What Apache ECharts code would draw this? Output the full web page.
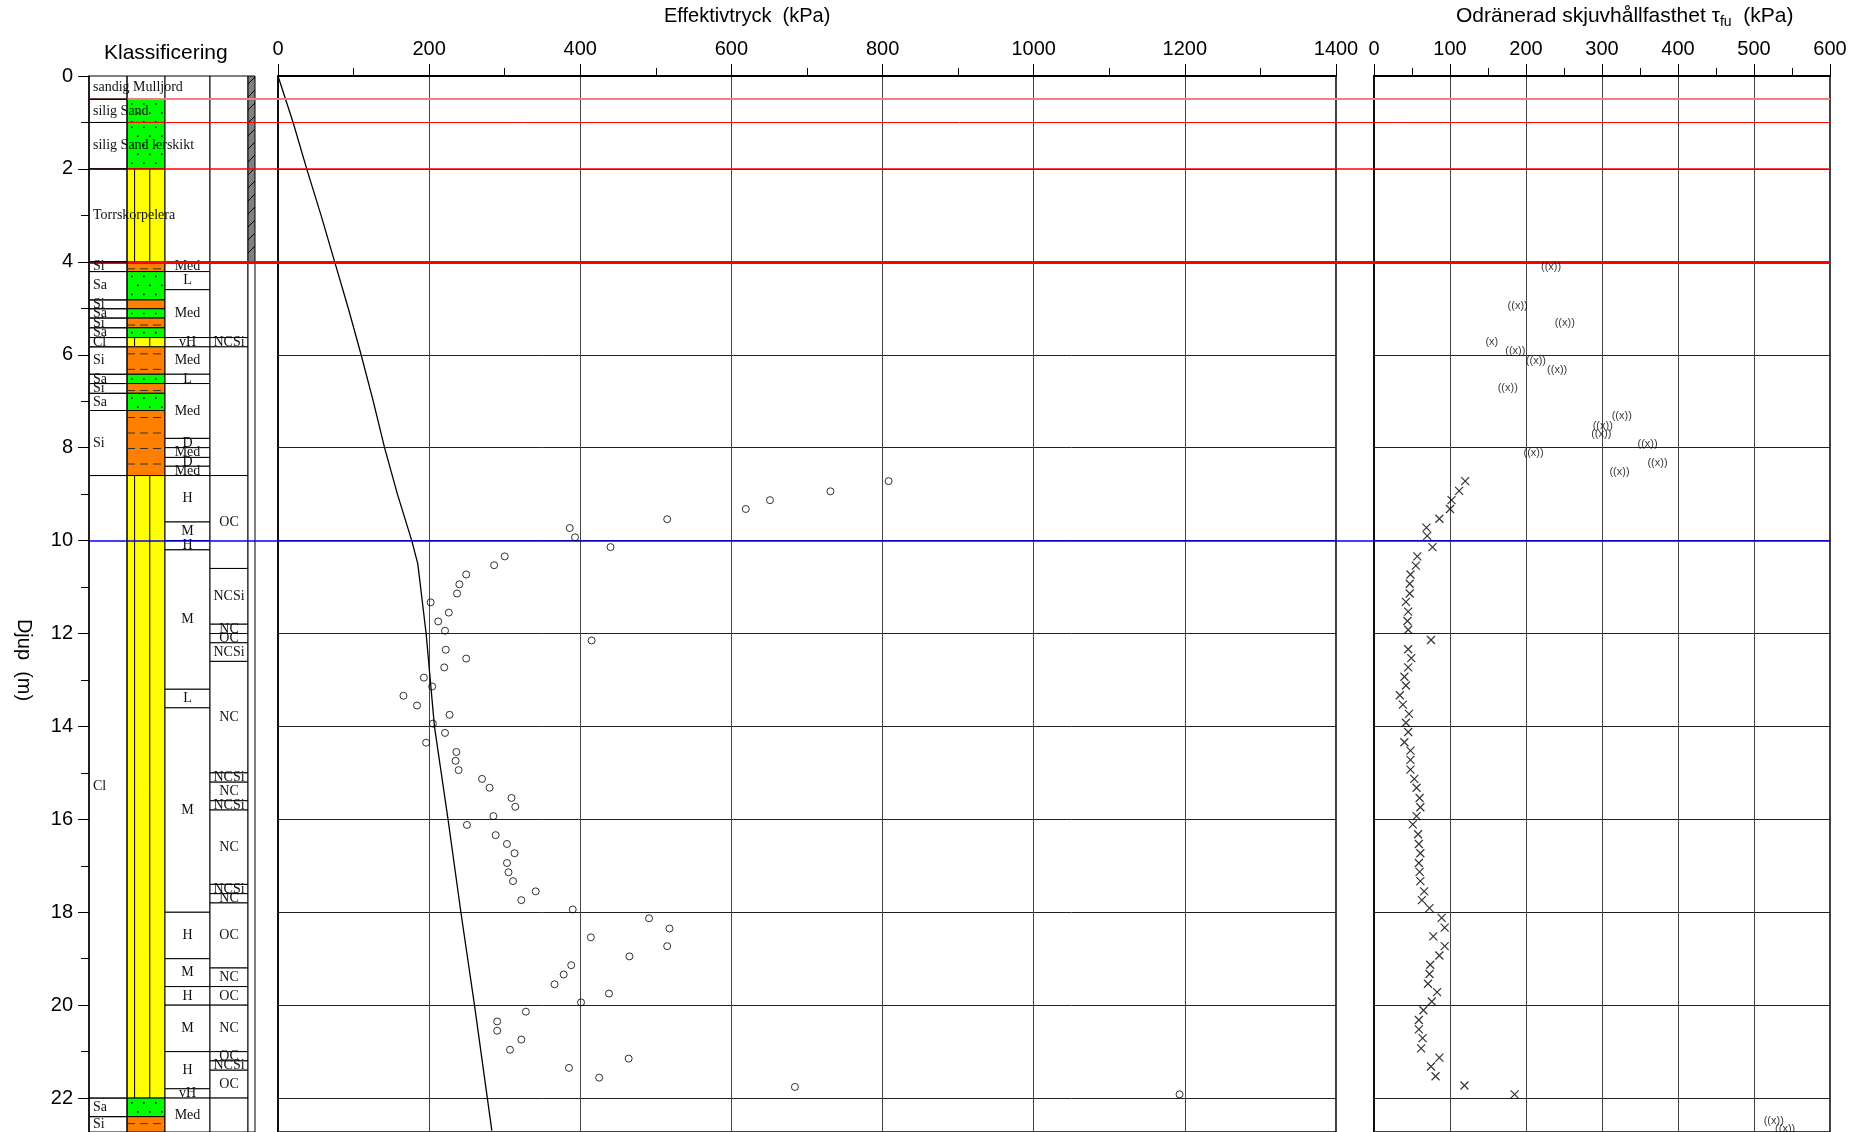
<!DOCTYPE html>
<html>
<head>
<meta charset="utf-8">
<script src="https://cdn.jsdelivr.net/npm/echarts@6/dist/echarts.min.js"></script>
<style>
html,body{margin:0;padding:0;background:#fff;}
#chart{width:1861px;height:1132px;}
</style>
</head>
<body>
<div id="chart"></div>
<script>
// djup (m) max i bilden
var depthMax = 22.73;

// jordlager: [topp, botten, text, typ]
var soilLayers = [
    [0, 0.5, 'sandig Mulljord', 'W'], [0.5, 1.0, 'silig Sand', 'Sa'], [1.0, 2.0, 'silig Sand lerskikt', 'Sa'],
    [2.0, 4.0, 'Torrskorpelera', 'Cl'], [4.0, 4.21, 'Si', 'Si'], [4.21, 4.82, 'Sa', 'Sa'], [4.82, 5.01, 'Si', 'Si'],
    [5.01, 5.21, 'Sa', 'Sa'], [5.21, 5.42, 'Si', 'Si'], [5.42, 5.63, 'Sa', 'Sa'], [5.63, 5.83, 'Cl', 'Cl'],
    [5.83, 6.42, 'Si', 'Si'], [6.42, 6.62, 'Sa', 'Sa'], [6.62, 6.83, 'Si', 'Si'], [6.83, 7.2, 'Sa', 'Sa'],
    [7.2, 8.6, 'Si', 'Si'], [8.6, 22.0, 'Cl', 'Cl'], [22.0, 22.4, 'Sa', 'Sa'], [22.4, 22.73, 'Si', 'Si']
];
// fasthet
var consLayers = [
    [0, 4.0, ''], [4.0, 4.21, 'Med'], [4.21, 4.6, 'L'], [4.6, 5.63, 'Med'], [5.63, 5.83, 'vH'], [5.83, 6.42, 'Med'],
    [6.42, 6.62, 'L'], [6.62, 7.8, 'Med'], [7.8, 8.0, 'D'], [8.0, 8.21, 'Med'], [8.21, 8.4, 'D'], [8.4, 8.6, 'Med'],
    [8.6, 9.6, 'H'], [9.6, 10.0, 'M'], [10.0, 10.2, 'H'], [10.2, 13.2, 'M'], [13.2, 13.6, 'L'], [13.6, 18.0, 'M'],
    [18.0, 19.0, 'H'], [19.0, 19.6, 'M'], [19.6, 20.0, 'H'], [20.0, 21.0, 'M'], [21.0, 21.8, 'H'], [21.8, 22.0, 'vH'],
    [22.0, 22.73, 'Med']
];
// konsolideringsgrad
var ocLayers = [
    [0, 5.63, ''], [5.63, 5.83, 'NCSi'], [5.83, 8.6, ''], [8.6, 10.6, 'OC'], [10.6, 11.8, 'NCSi'], [11.8, 12.0, 'NC'],
    [12.0, 12.2, 'OC'], [12.2, 12.6, 'NCSi'], [12.6, 15.0, 'NC'], [15.0, 15.2, 'NCSi'], [15.2, 15.6, 'NC'],
    [15.6, 15.8, 'NCSi'], [15.8, 17.4, 'NC'], [17.4, 17.6, 'NCSi'], [17.6, 17.8, 'NC'], [17.8, 19.2, 'OC'],
    [19.2, 19.6, 'NC'], [19.6, 20.0, 'OC'], [20.0, 21.0, 'NC'], [21.0, 21.2, 'OC'], [21.2, 21.4, 'NCSi'],
    [21.4, 22.0, 'OC'], [22.0, 22.73, '']
];
// torrskorpa-remsa
var stripLayers = [[0, 4.0, 'hatch'], [4.0, 22.73, '']];

// effektivtryck, linje [kPa, djup]
var effLine = [
    [0, 0], [20, 1], [38, 2], [57, 3], [75, 4], [93, 5], [110, 6], [126, 7], [141, 8], [158, 9], [177, 10],
    [185, 10.5], [196, 12], [207, 14], [225, 16], [242, 18], [260, 20], [277, 22], [283, 22.7]
];
// förkonsolideringstryck, punkter [kPa, djup]
var effPoints = [
    [808, 8.72], [731, 8.94], [651, 9.13], [619, 9.32], [515, 9.54], [386, 9.73], [393, 9.93], [440, 10.14],
    [300, 10.34], [286, 10.53], [249, 10.73], [240, 10.94], [237, 11.14], [202, 11.33], [226, 11.55], [212, 11.74],
    [221, 11.94], [415, 12.15], [222, 12.35], [249, 12.54], [220, 12.73], [193, 12.95], [204, 13.14], [166, 13.34],
    [184, 13.55], [227, 13.75], [205, 13.94], [221, 14.14], [196, 14.35], [236, 14.55], [235, 14.74], [239, 14.94],
    [270, 15.13], [280, 15.32], [309, 15.54], [314, 15.73], [285, 15.93], [250, 16.12], [288, 16.34], [303, 16.53],
    [313, 16.73], [303, 16.94], [305, 17.14], [311, 17.33], [341, 17.55], [322, 17.74], [390, 17.94], [491, 18.13],
    [518, 18.35], [414, 18.54], [515, 18.73], [465, 18.95], [388, 19.14], [378, 19.34], [366, 19.55], [438, 19.75],
    [401, 19.94], [328, 20.14], [290, 20.35], [290, 20.55], [322, 20.74], [307, 20.96], [464, 21.15], [385, 21.35],
    [425, 21.56], [684, 21.76], [1193, 21.92]
];
// skjuvhållfasthet [kPa, djup]
var shearX = [
    [120, 8.72], [112, 8.93], [102, 9.13], [100, 9.32], [86, 9.53], [69, 9.72], [70, 9.9], [77, 10.14], [57, 10.34],
    [55, 10.54], [48, 10.73], [47, 10.93], [47, 11.14], [42, 11.32], [45, 11.53], [44, 11.73], [45, 11.92], [75, 12.14],
    [45, 12.34], [49, 12.53], [45, 12.73], [40, 12.93], [42, 13.12], [34, 13.33], [38, 13.53], [46, 13.73], [42, 13.92],
    [45, 14.12], [40, 14.34], [48, 14.52], [48, 14.72], [48, 14.93], [53, 15.13], [56, 15.32], [60, 15.54], [61, 15.74],
    [56, 15.93], [51, 16.11], [58, 16.32], [59, 16.53], [61, 16.73], [59, 16.94], [60, 17.13], [61, 17.33], [66, 17.55],
    [63, 17.74], [73, 17.91], [89, 18.12], [93, 18.33], [78, 18.52], [93, 18.73], [86, 18.93], [74, 19.13], [73, 19.33],
    [71, 19.54], [83, 19.72], [76, 19.92], [65, 20.11], [59, 20.32], [59, 20.52], [64, 20.71], [62, 20.93], [86, 21.13],
    [75, 21.32], [81, 21.53], [119, 21.73], [185, 21.92]
];
// osäkra värden [kPa, djup, märkning]
var shearMarked = [
    [233, 4.12, '((x))'], [189, 4.94, '((x))'], [251, 5.32, '((x))'], [155, 5.73, '(x)'], [186, 5.92, '((x))'],
    [213, 6.14, '((x))'], [241, 6.33, '((x))'], [176, 6.71, '((x))'], [326, 7.31, '((x))'], [301, 7.53, '((x))'],
    [299, 7.7, '((x))'], [360, 7.92, '((x))'], [210, 8.12, '((x))'], [373, 8.33, '((x))'], [323, 8.53, '((x))'],
    [526, 22.5, '((x))'], [541, 22.66, '((x))']
];
// nivålinjer [djup, färg, bredd]
var levelLines = [[0.5, '#f08080', 2], [1.0, '#ff0000', 1], [2.0, '#ff0000', 1.5], [4.0, '#ff0000', 3], [10.0, '#0000ff', 1.5]];

var COLS = {name: [0, 38], soil: [38, 76], cons: [76, 121], oc: [121, 159], strip: [159, 166]};
var SERIF = "'Liberation Serif', 'Times New Roman', serif";
var SANS = "'Liberation Sans', Arial, sans-serif";
var soilColor = {W: '#ffffff', Sa: '#00ff00', Si: '#ff8000', Cl: '#ffff00'};

function columnSeries(layers, col, kind) {
    return {
        type: 'custom', xAxisIndex: 0, yAxisIndex: 0, clip: false, z: kind === 'name' ? 5 : 3,
        data: layers.map(function (l) { return [l[0], l[1]]; }),
        encode: {y: [0, 1]},
        renderItem: function (params, api) {
            var l = layers[params.dataIndex];
            var p0 = api.coord([col[0], api.value(0)]);
            var p1 = api.coord([col[1], api.value(1)]);
            var w = p1[0] - p0[0], h = p1[1] - p0[1];
            var ch = [];
            var fill = '#fff';
            if (kind === 'soil') fill = soilColor[l[3]];
            if (kind === 'strip' && l[2] === 'hatch') fill = '#808080';
            ch.push({type: 'rect', shape: {x: p0[0], y: p0[1], width: w, height: h},
                style: {fill: kind === 'name' ? 'none' : fill, stroke: '#000', lineWidth: 1}});
            if (kind === 'soil') {
                var t = l[3], i, j;
                if (t === 'Cl') {
                    [0.2, 0.6].forEach(function (f) {
                        ch.push({type: 'line', shape: {x1: p0[0] + w * f, y1: p0[1], x2: p0[0] + w * f, y2: p1[1]},
                            style: {stroke: '#000', lineWidth: 1}});
                    });
                } else if (t === 'Si') {
                    for (i = p0[1] + 7; i < p1[1] - 2; i += 15.5) {
                        ch.push({type: 'line', shape: {x1: p0[0], y1: i, x2: p1[0], y2: i},
                            style: {stroke: '#333', lineWidth: 1, lineDash: [8, 5]}});
                    }
                } else if (t === 'Sa') {
                    var row = 0;
                    for (i = p0[1] + 4; i < p1[1] - 1; i += 9, row++) {
                        for (j = p0[0] + 4 + (row % 2) * 6; j < p1[0] - 1; j += 12) {
                            ch.push({type: 'rect', shape: {x: j, y: i, width: 1.6, height: 1.6}, style: {fill: '#000'}});
                        }
                    }
                }
            }
            if (kind === 'strip' && l[2] === 'hatch') {
                for (var k = p0[1] + 8; k < p1[1]; k += 13) {
                    ch.push({type: 'line', shape: {x1: p0[0], y1: k, x2: p1[0], y2: k - 7},
                        style: {stroke: '#000', lineWidth: 1}});
                }
            }
            if ((kind === 'name' || kind === 'cons' || kind === 'oc') && l[2] && l[2] !== 'hatch') {
                ch.push({type: 'text', style: {
                    text: l[2], x: kind === 'name' ? p0[0] + 4 : p0[0] + w / 2, y: p0[1] + h / 2,
                    textAlign: kind === 'name' ? 'left' : 'center', textVerticalAlign: 'middle',
                    font: '14px ' + SERIF, fill: '#111'}});
            }
            return {type: 'group', children: ch};
        }
    };
}

var depthAxisBase = {
    type: 'value', inverse: true, min: 0, max: depthMax, interval: 2
};
var plainNum = function (v) { return String(v); };

var chart = echarts.init(document.getElementById('chart'));
var option = {
    backgroundColor: '#fff',
    animation: false,
    grid: [
        {left: 89, width: 167, top: 76, bottom: 0},
        {left: 278, width: 1058, top: 76, bottom: 0, show: true, borderColor: '#000', borderWidth: 1.5},
        {left: 1374, width: 456, top: 76, bottom: 0, show: true, borderColor: '#000', borderWidth: 1.5},
        {left: 89, width: 1741, top: 76, bottom: 0}
    ],
    xAxis: [
        {gridIndex: 0, type: 'value', min: 0, max: 167, show: false},
        {gridIndex: 1, type: 'value', position: 'top', min: 0, max: 1400, interval: 200,
            axisLine: {lineStyle: {color: '#000', width: 2}},
            axisTick: {length: 12, lineStyle: {color: '#000'}},
            minorTick: {show: true, splitNumber: 2, length: 8, lineStyle: {color: '#000'}},
            axisLabel: {color: '#000', fontSize: 20, fontFamily: SANS, margin: 17, formatter: plainNum},
            splitLine: {show: true, lineStyle: {color: '#444', width: 1}}},
        {gridIndex: 2, type: 'value', position: 'top', min: 0, max: 600, interval: 100,
            axisLine: {lineStyle: {color: '#000', width: 2}},
            axisTick: {length: 12, lineStyle: {color: '#000'}},
            minorTick: {show: true, splitNumber: 2, length: 8, lineStyle: {color: '#000'}},
            axisLabel: {color: '#000', fontSize: 20, fontFamily: SANS, margin: 17, formatter: plainNum},
            splitLine: {show: true, lineStyle: {color: '#444', width: 1}}},
        {gridIndex: 3, type: 'value', min: 0, max: 1, show: false}
    ],
    yAxis: [
        Object.assign({gridIndex: 0,
            axisLine: {show: true, lineStyle: {color: '#000', width: 1.5}},
            axisTick: {show: true, length: 11, lineStyle: {color: '#000'}},
            minorTick: {show: true, splitNumber: 2, length: 8, lineStyle: {color: '#000'}},
            axisLabel: {color: '#000', fontSize: 20, fontFamily: SANS, margin: 16, showMaxLabel: false,
                formatter: function (v) { return v % 2 === 0 ? v : ''; }},
            splitLine: {show: false}}, depthAxisBase),
        Object.assign({gridIndex: 1,
            axisLine: {show: true, lineStyle: {color: '#000', width: 1.5}},
            axisTick: {show: false}, axisLabel: {show: false},
            splitLine: {show: true, lineStyle: {color: '#222', width: 1}}}, depthAxisBase),
        Object.assign({gridIndex: 2,
            axisLine: {show: true, lineStyle: {color: '#000', width: 1.5}},
            axisTick: {show: false}, axisLabel: {show: false},
            splitLine: {show: true, lineStyle: {color: '#222', width: 1}}}, depthAxisBase),
        Object.assign({gridIndex: 3, show: false}, depthAxisBase)
    ],
    graphic: [
        {type: 'text', left: 754 - 90, top: 6, style: {text: 'Effektivtryck  (kPa)', font: '20px ' + SANS, fill: '#000'}},
        {type: 'text', left: 104, top: 43, style: {text: 'Klassificering', font: '21px ' + SANS, fill: '#000'}},
        {type: 'text', left: 1456, top: 6, style: {
            text: 'Odränerad skjuvhållfasthet τ{sub|fu}  (kPa)', font: '21px ' + SANS, fill: '#000',
            rich: {sub: {fontSize: 14, fontFamily: SANS, verticalAlign: 'bottom', padding: [12, 0, 0, 0]}}}},
        {type: 'text', x: 24, y: 660, rotation: -Math.PI / 2, style: {
            text: 'Djup  (m)', font: '20px ' + SANS, fill: '#000', textAlign: 'center', textVerticalAlign: 'middle'}}
    ],
    series: [
        columnSeries(soilLayers, COLS.soil, 'soil'),
        columnSeries(soilLayers, COLS.name, 'name'),
        columnSeries(consLayers, COLS.cons, 'cons'),
        columnSeries(ocLayers, COLS.oc, 'oc'),
        columnSeries(stripLayers, COLS.strip, 'strip'),
        {type: 'line', xAxisIndex: 1, yAxisIndex: 1, data: effLine, symbol: 'none', smooth: false,
            lineStyle: {color: '#000', width: 1.3}, z: 4},
        {type: 'scatter', xAxisIndex: 1, yAxisIndex: 1, data: effPoints, symbol: 'circle', symbolSize: 7,
            itemStyle: {color: 'rgba(0,0,0,0)', borderColor: '#000', borderWidth: 1}, z: 5},
        {type: 'scatter', xAxisIndex: 2, yAxisIndex: 2, data: shearX, symbol: 'path://M0,0L10,10M10,0L0,10',
            symbolSize: 8, itemStyle: {color: 'none', borderColor: '#000', borderWidth: 1.2}, z: 5},
        {type: 'scatter', xAxisIndex: 2, yAxisIndex: 2, data: shearMarked, symbolSize: 0, clip: false,
            label: {show: true, position: 'inside', formatter: function (p) { return p.data[2]; },
                fontSize: 11, fontFamily: SANS, color: '#000'}, z: 5},
        {type: 'line', xAxisIndex: 3, yAxisIndex: 3, data: [], z: 6,
            markLine: {silent: true, symbol: 'none', label: {show: false},
                data: levelLines.map(function (l) {
                    return {yAxis: l[0], lineStyle: {color: l[1], width: l[2], type: 'solid'}};
                })}}
    ]
};
chart.setOption(option);
</script>
</body>
</html>
